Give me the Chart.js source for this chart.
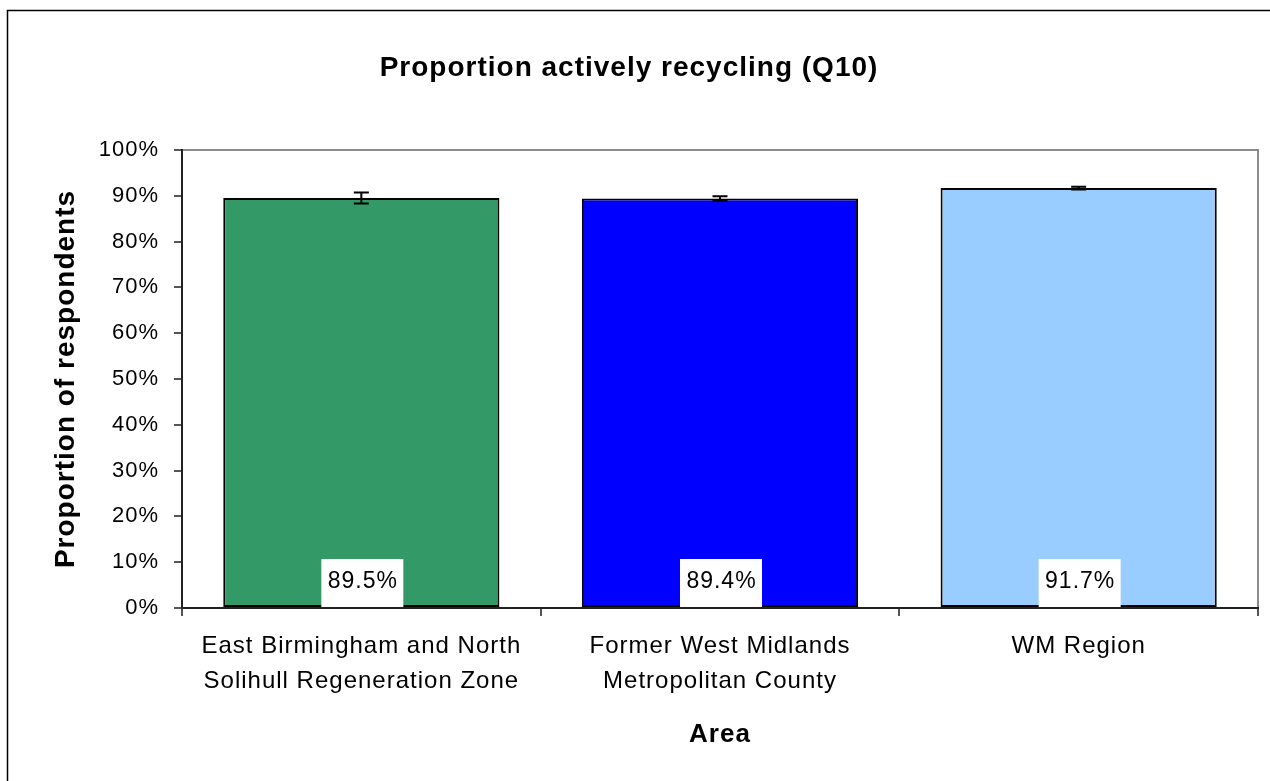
<!DOCTYPE html>
<html>
<head>
<meta charset="utf-8">
<script src="https://cdn.jsdelivr.net/npm/chart.js@4"></script>
<style>
  html, body { margin: 0; padding: 0; background: #fff; }
  #wrap { width: 1270px; height: 781px; position: relative; }
</style>
</head>
<body>
<div id="wrap"><canvas id="c" width="1270" height="781"></canvas></div>
<script>
const categories = [
  ["East Birmingham and North", "Solihull Regeneration Zone"],
  ["Former West Midlands", "Metropolitan County"],
  ["WM Region"]
];
const values = [89.5, 89.4, 91.7];
const errors = [1.2, 0.5, 0.3];
const barColors = ["#339966", "#0000FF", "#99CCFF"];
const yTicks = [0, 10, 20, 30, 40, 50, 60, 70, 80, 90, 100];
const chartTitle = "Proportion actively recycling (Q10)";
const yTitle = "Proportion of respondents";
const xTitle = "Area";

const FONT = "'Liberation Sans', Arial, sans-serif";
const LS = "1px";
Chart.defaults.color = "#000";
Chart.defaults.font.family = FONT;

const spacing = {
  id: "spacing",
  beforeUpdate(chart) { chart.ctx.letterSpacing = LS; },
  beforeLayout(chart) { chart.ctx.letterSpacing = LS; },
  beforeDraw(chart) {
    const ctx = chart.ctx;
    ctx.letterSpacing = LS;
    ctx.save();
    ctx.strokeStyle = "#000";
    ctx.lineWidth = 1.5;
    ctx.strokeRect(7.5, 10.5, 1300, 800);
    const a = chart.chartArea;
    ctx.strokeStyle = "#8c8c8c";
    ctx.lineWidth = 2;
    ctx.beginPath();
    ctx.moveTo(a.left, a.top);
    ctx.lineTo(a.right, a.top);
    ctx.lineTo(a.right, a.bottom);
    ctx.stroke();
    ctx.restore();
  }
};

const extras = {
  id: "extras",
  afterDatasetsDraw(chart) {
    const ctx = chart.ctx;
    const meta = chart.getDatasetMeta(0);
    const ys = chart.scales.y;
    ctx.save();
    ctx.letterSpacing = LS;
    ctx.strokeStyle = "#000";
    ctx.lineWidth = 2;
    meta.data.forEach((bar, i) => {
      const yTop = ys.getPixelForValue(values[i] + errors[i]);
      const yBot = ys.getPixelForValue(values[i] - errors[i]);
      const x = bar.x;
      const cw = 7.5;
      ctx.beginPath();
      ctx.moveTo(x, yTop); ctx.lineTo(x, yBot);
      ctx.moveTo(x - cw, yTop); ctx.lineTo(x + cw, yTop);
      ctx.moveTo(x - cw, yBot); ctx.lineTo(x + cw, yBot);
      ctx.stroke();
    });
    ctx.font = "23px " + FONT;
    ctx.textAlign = "center";
    ctx.textBaseline = "middle";
    meta.data.forEach((bar, i) => {
      const txt = values[i].toFixed(1) + "%";
      const w = 82;
      const bottom = ys.bottom - 1;
      const h = 48;
      ctx.fillStyle = "#fff";
      ctx.fillRect(bar.x - w / 2 + 1, bottom - h, w, h);
      ctx.fillStyle = "#000";
      ctx.fillText(txt, bar.x + 1.5, bottom - h / 2 - 1);
    });
    ctx.restore();
  }
};

new Chart(document.getElementById("c"), {
  type: "bar",
  data: {
    labels: categories,
    datasets: [{
      data: values,
      backgroundColor: barColors,
      borderColor: "#000",
      borderWidth: 2,
      borderSkipped: false,
      barPercentage: 1,
      categoryPercentage: 0.77
    }]
  },
  options: {
    responsive: false,
    animation: false,
    devicePixelRatio: 1,
    layout: { padding: { left: 0, right: 12, top: 0, bottom: 0 } },
    plugins: {
      legend: { display: false },
      tooltip: { enabled: false },
      title: {
        display: true,
        text: chartTitle,
        color: "#000",
        font: { size: 28, weight: "bold", family: FONT, lineHeight: 1.2 },
        padding: { top: 51, bottom: 65.4 }
      }
    },
    scales: {
      x: {
        offset: true,
        grid: { display: true, offset: true, drawOnChartArea: false, drawTicks: true, tickLength: 8, color: "#555", lineWidth: 2 },
        border: { display: true, color: "#222", width: 2 },
        ticks: { color: "#000", font: { size: 24, family: FONT, lineHeight: 1.46 }, padding: 13, maxRotation: 0, autoSkip: false },
        title: { display: true, text: xTitle, color: "#000", font: { size: 26, weight: "bold", family: FONT, lineHeight: 1.2 }, padding: { top: 0, bottom: 31 } },
        afterFit(scale) { scale.height = 173; }
      },
      y: {
        min: 0, max: 100,
        afterBuildTicks(scale) { scale.ticks = yTicks.map(v => ({ value: v })); },
        grid: { display: true, drawOnChartArea: false, drawTicks: true, tickLength: 8, color: "#555", lineWidth: 2 },
        border: { display: true, color: "#222", width: 2 },
        ticks: { color: "#000", font: { size: 22, family: FONT }, padding: 15, callback: v => v + "%" },
        title: { display: true, text: yTitle, color: "#000", font: { size: 28, weight: "bold", family: FONT, lineHeight: 1.2 }, padding: { top: 49, bottom: 0 } },
        afterFit(scale) { scale.width = 182; }
      }
    }
  },
  plugins: [spacing, extras]
});
</script>
</body>
</html>
